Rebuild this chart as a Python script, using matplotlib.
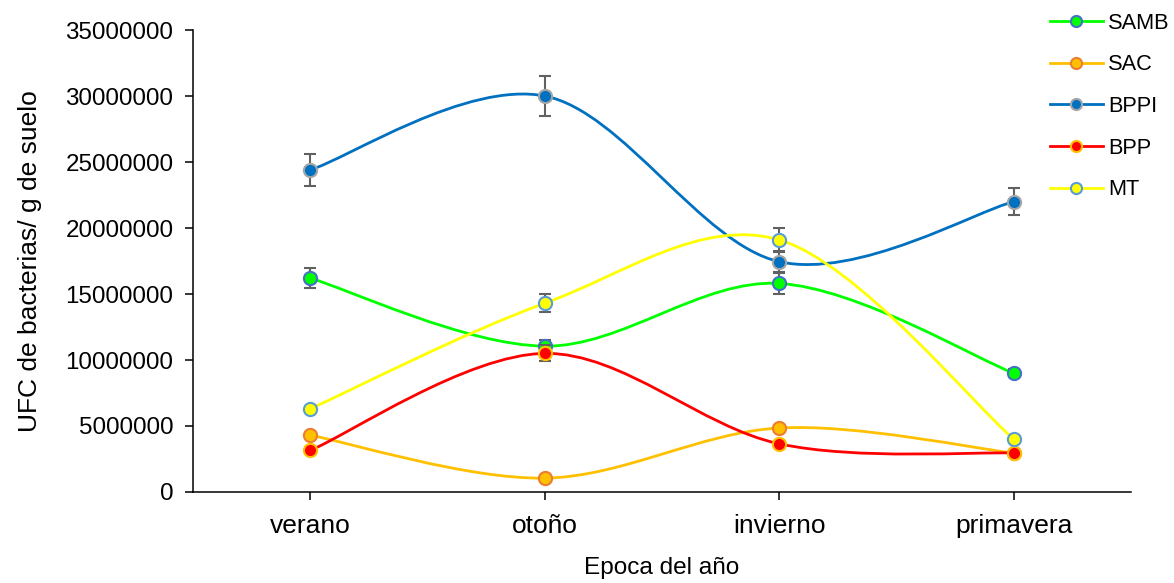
import numpy as np
import matplotlib
matplotlib.use("Agg")
import matplotlib.pyplot as plt
from matplotlib.path import Path
from matplotlib.patches import PathPatch
from matplotlib.lines import Line2D

plt.rcParams['font.family'] = ['Liberation Sans', 'DejaVu Sans']

# Data
seasons = ["verano", "otoño", "invierno", "primavera"]
samb = [16200000, 11050000, 15800000, 9000000]
samb_err = [750000, 500000, 800000, 300000]
sac = [4300000, 1050000, 4850000, 2950000]
sac_err = [0, 0, 0, 0]
bppi = [24400000, 30000000, 17450000, 22000000]
bppi_err = [1200000, 1500000, 750000, 1050000]
bpp = [3150000, 10500000, 3650000, 2950000]
bpp_err = [0, 600000, 0, 0]
mt = [6300000, 14300000, 19100000, 4000000]
mt_err = [0, 700000, 870000, 0]

series = [
    ("SAMB", samb, samb_err, "#00FF00", "#00FF00", "#4472C4"),
    ("SAC", sac, sac_err, "#FFC000", "#FFC000", "#ED7D31"),
    ("BPPI", bppi, bppi_err, "#0070C0", "#0070C0", "#A5A5A5"),
    ("BPP", bpp, bpp_err, "#FF0000", "#FF0000", "#FFC000"),
    ("MT", mt, mt_err, "#FFFF00", "#FFFF00", "#5B9BD5"),
]


def smooth_path(x, y):
    """Cubic Bezier path through the points (Catmull-Rom style smoothing)."""
    pts = np.column_stack([x, y]).astype(float)
    n = len(pts)
    verts = [pts[0]]
    codes = [Path.MOVETO]
    for i in range(n - 1):
        p_prev = pts[i - 1] if i > 0 else pts[i]
        p0 = pts[i]
        p1 = pts[i + 1]
        p_next = pts[i + 2] if i + 2 < n else pts[i + 1]
        c1 = p0 + (p1 - p_prev) / 6.0
        c2 = p1 - (p_next - p0) / 6.0
        verts += [c1, c2, p1]
        codes += [Path.CURVE4] * 3
    return Path(verts, codes)


fig = plt.figure(figsize=(11.74, 5.83), dpi=100)
ax = fig.add_axes([0.1644, 0.1561, 0.7990, 0.7924])

xpos = np.arange(len(seasons))
LW = 2.0
MS = 9.5
MEW = 1.5
handles = []
for k, (name, vals, err, lc, fc, ec) in enumerate(series):
    z = 3 + k * 3
    patch = PathPatch(smooth_path(xpos, vals), facecolor="none", edgecolor=lc,
                      lw=LW, zorder=z, capstyle="round")
    ax.add_patch(patch)
    e = np.array(err, dtype=float)
    mask = e > 0
    if mask.any():
        ax.errorbar(xpos[mask], np.array(vals)[mask], yerr=e[mask], fmt="none",
                    ecolor="#616161", elinewidth=1.5, capsize=4, capthick=1.5,
                    zorder=z + 1)
    ax.plot(xpos, vals, linestyle="none", marker="o", markersize=MS,
            markerfacecolor=fc, markeredgecolor=ec, markeredgewidth=MEW,
            zorder=z + 2)
    handles.append(Line2D([0], [0], color=lc, lw=LW, marker="o", markersize=MS - 1.5,
                          markerfacecolor=fc, markeredgecolor=ec,
                          markeredgewidth=MEW, label=name))

ax.set_xlim(-0.5, 3.5)
ax.set_ylim(0, 35000000)
yt = np.arange(0, 35000001, 5000000)
ax.set_yticks(yt)
ax.set_yticklabels([f"{int(v)}" for v in yt])
ax.set_xticks(xpos)
ax.set_xticklabels(seasons)

for s in ["top", "right"]:
    ax.spines[s].set_visible(False)
for s in ["left", "bottom"]:
    ax.spines[s].set_color("black")
    ax.spines[s].set_linewidth(1.1)

ax.tick_params(axis="both", direction="out", length=5.8, width=1.1, colors="black")
ax.tick_params(axis="x", labelsize=19, pad=10)
ax.tick_params(axis="y", labelsize=17.4, pad=8.4)

ax.set_ylabel("UFC de bacterias/ g de suelo", fontsize=19, labelpad=17)
ax.set_xlabel("Epoca del año", fontsize=17.6, labelpad=14)

fig.legend(handles=handles, loc="upper left", bbox_to_anchor=(0.8903, 0.986),
           frameon=False, fontsize=15.7, handlelength=2.45, handletextpad=0.25,
           labelspacing=0.95, borderaxespad=0, borderpad=0.2)

fig.savefig("out.png", dpi=100)
